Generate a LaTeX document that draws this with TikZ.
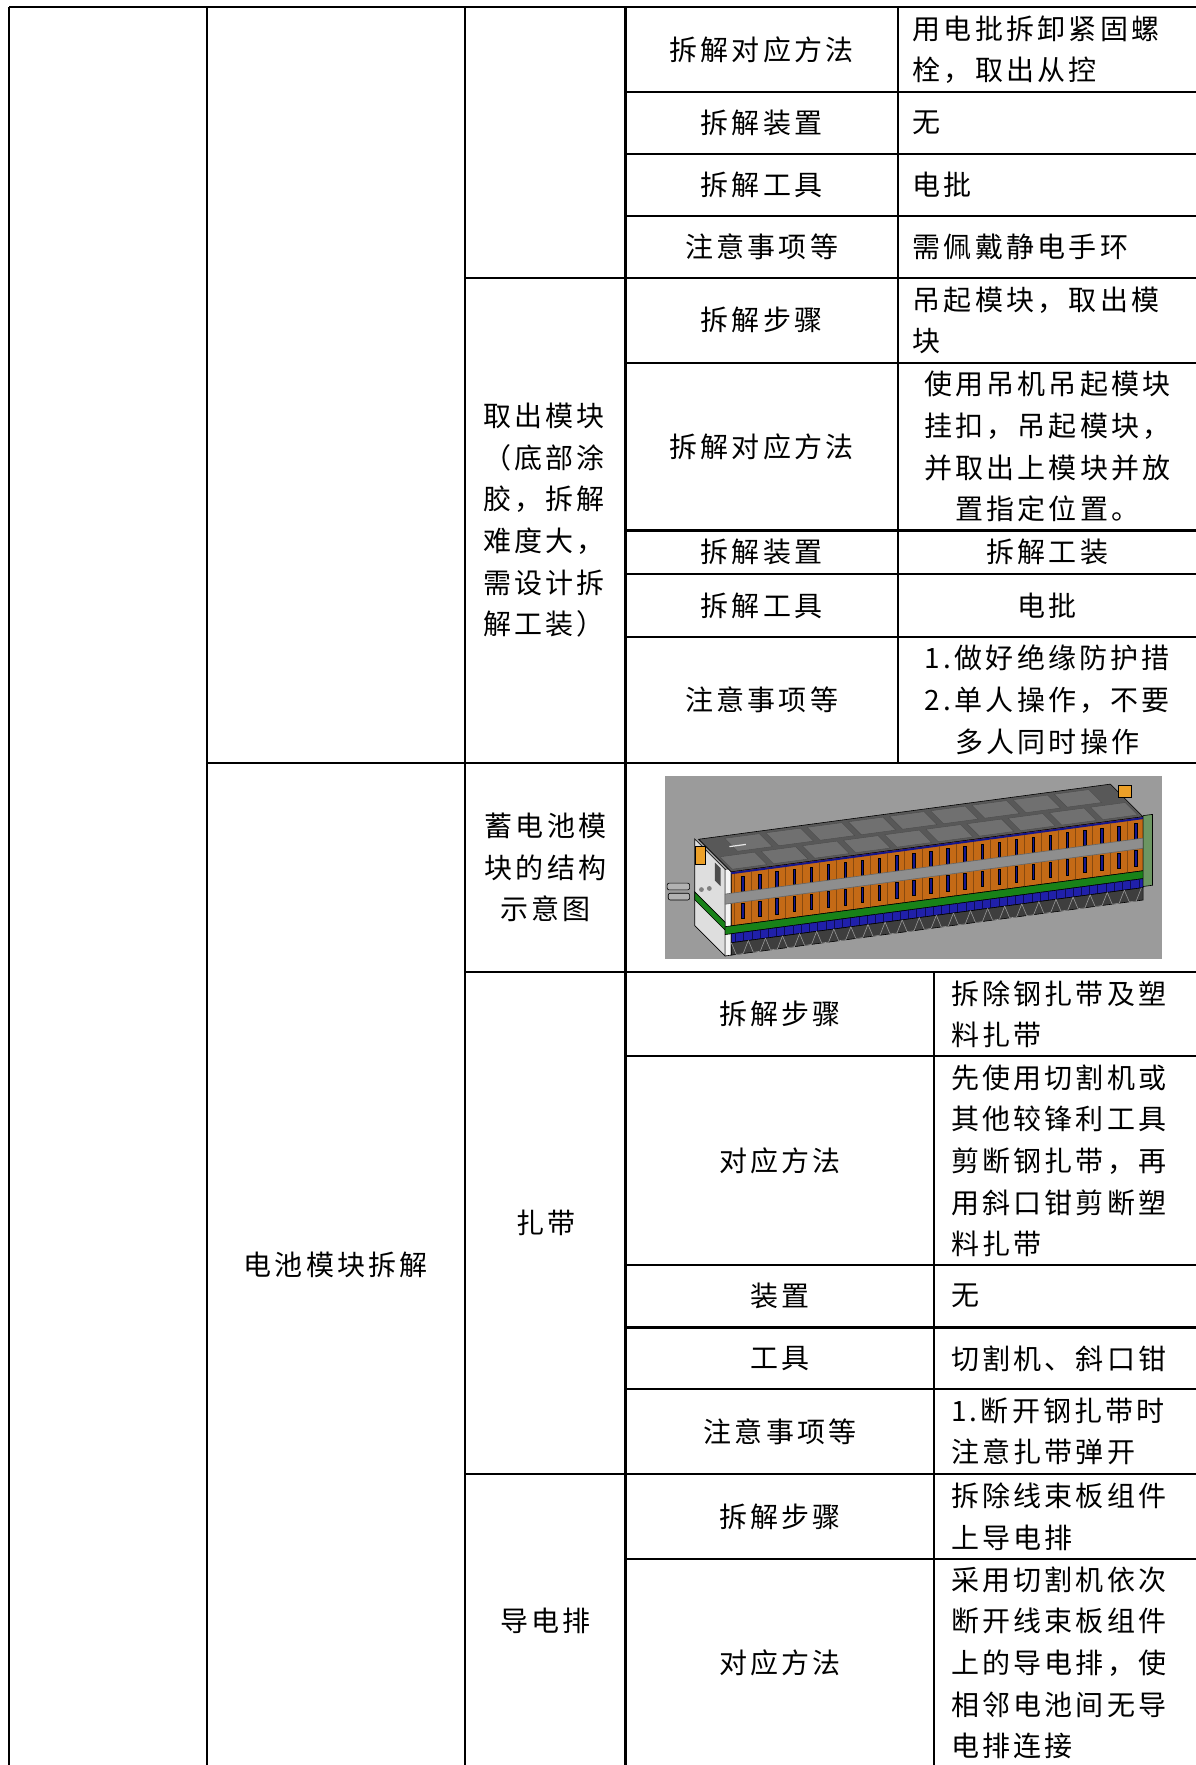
\documentclass[tikz,border=0pt]{standalone}
\usepackage{fontspec}
\setmainfont{Noto Sans CJK SC}[LetterSpace=11.5]
\newcommand{\cellfont}{\fontsize{14}{20.8}\selectfont}
\definecolor{bggray}{RGB}{155,155,155}
\definecolor{topgray}{RGB}{88,88,88}
\definecolor{tilegray}{RGB}{112,112,112}
\definecolor{cellorange}{RGB}{196,106,22}
\definecolor{slotblue}{RGB}{22,22,140}
\definecolor{bandgreen}{RGB}{24,130,24}
\definecolor{stripblue}{RGB}{32,32,170}
\definecolor{footgray}{RGB}{62,62,62}
\definecolor{strapgray}{RGB}{142,142,142}
\definecolor{capgray}{RGB}{222,222,222}
\definecolor{plategreen}{RGB}{108,150,98}
\definecolor{plugorange}{RGB}{236,160,40}
\tikzset{
  rule/.style={line width=1.1pt},
  cell/.style={font=\cellfont, inner sep=0pt, align=center},
  leftcell/.style={font=\cellfont, inner sep=0pt, align=left, anchor=west},
  edge/.style={draw=black, line width=0.3pt},
}
\begin{document}
\begin{tikzpicture}[x=0.5625pt, y=-0.5625pt]
\useasboundingbox (0,0) rectangle (1063.1,1568.9);

% Grid lines
\draw[rule] (8,6.5) -- (1063.1,6.5);
\foreach \x in {8,184,413.5,556} \draw[rule] (\x,6.5) -- (\x,1568.9);
\draw[rule] (798,6.5) -- (798,678);
\draw[rule] (830.5,864) -- (830.5,1568.9);
\foreach \y in {81.5,137,192,322.5,471.5,510.5,566} \draw[rule] (556,\y) -- (1063.1,\y);
\draw[rule] (413.5,247) -- (1063.1,247);
\draw[rule] (184,678) -- (1063.1,678);
\draw[rule] (413.5,864) -- (1063.1,864);
\foreach \y in {939,1124.5,1180,1235,1386} \draw[rule] (556,\y) -- (1063.1,\y);
\draw[rule] (413.5,1310) -- (1063.1,1310);

% Upper rows
\node[cell] (m1) at (677,44) {拆解对应方法};
\node[leftcell] (v1) at (811,44) {用电批拆卸紧固螺\\栓，取出从控};
\node[cell] (m2) at (677,109.25) {拆解装置};
\node[leftcell] (v2) at (811,109.25) {无};
\node[cell] (m3) at (677,164.5) {拆解工具};
\node[leftcell] (v3) at (811,164.5) {电批};
\node[cell] (m4) at (677,219.5) {注意事项等};
\node[leftcell] (v4) at (811,219.5) {需佩戴静电手环};

\node[leftcell] (take) at (429,462.5) {取出模块\\（底部涂\\胶，拆解\\难度大，\\需设计拆\\解工装）};
\node[cell] (m5) at (677,284.75) {拆解步骤};
\node[leftcell] (v5) at (811,284.75) {吊起模块，取出模\\块};
\node[cell] (m6) at (677,397) {拆解对应方法};
\node[cell] (v6) at (931,397) {使用吊机吊起模块\\挂扣，吊起模块，\\并取出上模块并放\\置指定位置。};
\node[cell] (m7) at (677,491) {拆解装置};
\node[cell] (v7) at (931,491) {拆解工装};
\node[cell] (m8) at (677,538.25) {拆解工具};
\node[cell] (v8) at (931,538.25) {电批};
\node[cell] (m9) at (677,622) {注意事项等};
\node[cell] (v9) at (931,622) {1.做好绝缘防护措\\2.单人操作，不要\\多人同时操作};

% Lower rows
\node[cell] (battery) at (298.5,1124) {电池模块拆解};
\node[cell] (sketch) at (485,771) {蓄电池模\\块的结构\\示意图};

\node[cell] (strap) at (485,1087) {扎带};
\node[cell] (m10) at (693.5,901.5) {拆解步骤};
\node[leftcell] (v10) at (845,901.5) {拆除钢扎带及塑\\料扎带};
\node[cell] (m11) at (693.5,1031.75) {对应方法};
\node[leftcell] (v11) at (845,1031.75) {先使用切割机或\\其他较锋利工具\\剪断钢扎带，再\\用斜口钳剪断塑\\料扎带};
\node[cell] (m12) at (693.5,1152.25) {装置};
\node[leftcell] (v12) at (845,1152.25) {无};
\node[cell] (m13) at (693.5,1207.5) {工具};
\node[leftcell] (v13) at (845,1207.5) {切割机、斜口钳};
\node[cell] (m14) at (693.5,1272.5) {注意事项等};
\node[leftcell] (v14) at (845,1272.5) {1.断开钢扎带时\\注意扎带弹开};

\node[cell] (bus) at (485,1441) {导电排};
\node[cell] (m15) at (693.5,1348) {拆解步骤};
\node[leftcell] (v15) at (845,1348) {拆除线束板组件\\上导电排};
\node[cell] (m16) at (693.5,1478) {对应方法};
\node[leftcell] (v16) at (845,1478) {采用切割机依次\\断开线束板组件\\上的导电排，使\\相邻电池间无导\\电排连接};

% Module sketch
\fill[bggray] (591.5,690) rectangle (1033,852);
\begin{scope}[shift={(650,775)}, x={(2.059pt,0.2756pt)}, y={(0pt,-0.5625pt)}, z={(-0.5625pt,0.5625pt)}]
  % end cap
  \filldraw[capgray, edge] (-1.5,-3,0) -- (-1.5,-3,27) -- (-1.5,74,27) -- (-1.5,74,0) -- cycle;
  \filldraw[white!92!gray, edge] (-1.5,-3,0) -- (0,-3,0) -- (0,74,0) -- (-1.5,74,0) -- cycle;
  \filldraw[bandgreen, edge] (-1.5,44,0) -- (-1.5,44,27) -- (-1.5,51,27) -- (-1.5,51,0) -- cycle;
  \fill[gray] (-1.5,28,14) circle (1.2pt);
  \fill[gray] (-1.5,36,21) circle (1.2pt);
  \fill[black!70] (-1.5,0,4) -- (-1.5,0,9) -- (-1.5,16,9) -- (-1.5,16,4) -- cycle;
  % top face
  \filldraw[topgray, edge] (0,0,0) -- (100,0,0) -- (100,0,29) -- (0,0,29) -- cycle;
  \foreach \i in {0,...,9}
    \filldraw[tilegray, draw=black!70, line width=0.2pt] (\i*10+0.8,0,2) -- (\i*10+9.2,0,2) -- (\i*10+9.2,0,13) -- (\i*10+0.8,0,13) -- cycle;
  \foreach \i in {1,...,9}
    \filldraw[tilegray, draw=black!70, line width=0.2pt] (\i*10-4.2,0,15.5) -- (\i*10+4.2,0,15.5) -- (\i*10+4.2,0,27) -- (\i*10-4.2,0,27) -- cycle;
  \draw[white!80!gray, line width=0.6pt] (5,0,20) -- (9,0,20);
  % front cells
  \filldraw[cellorange, edge] (0,0) -- (100,0) -- (100,48) -- (0,48) -- cycle;
  \draw[slotblue, line width=1pt] (0,1.2) -- (100,1.2);
  \foreach \k in {0,...,23} {
    \draw[cellorange!70!black, line width=0.2pt] (\k*4.15+0.6,2) -- (\k*4.15+0.6,48);
    \filldraw[slotblue, edge] (\k*4.15+2.5,5) rectangle (\k*4.15+3.1,19);
    \filldraw[slotblue, edge] (\k*4.15+2.5,29) rectangle (\k*4.15+3.1,43);
  }
  % straps and bands
  \filldraw[strapgray, draw=black!60, line width=0.3pt] (-1.5,19) -- (101.5,19) -- (101.5,28) -- (-1.5,28) -- cycle;
  \filldraw[bandgreen, edge] (-1.5,48) -- (101.5,48) -- (101.5,55) -- (-1.5,55) -- cycle;
  \filldraw[stripblue, edge] (0,55) -- (100,55) -- (100,63) -- (0,63) -- cycle;
  \foreach \k in {0,...,49}
    \draw[slotblue!60!black, line width=0.3pt] (\k*2+1,55) -- (\k*2+1,63);
  \filldraw[footgray, edge] (0,63) -- (100,63) -- (100,74) -- (0,74) -- cycle;
  \foreach \k in {0,...,23}
    \draw[black!40, line width=0.3pt] (\k*4.15,63) -- (\k*4.15+1.2,74) -- (\k*4.15+2.9,74) -- (\k*4.15+4.15,63);
  % end plate
  \filldraw[plategreen, edge] (100,-1) -- (102.3,-1) -- (102.3,62) -- (100,62) -- cycle;
\end{scope}
\filldraw[plugorange, edge] (618,752) rectangle (627,768);
\filldraw[plugorange, edge] (994,698) rectangle (1006,709);
\filldraw[gray!60, edge, rounded corners=1pt] (593,785) rectangle (613,791);
\filldraw[gray!60, edge, rounded corners=1pt] (594,794) rectangle (613,800);
\end{tikzpicture}
\end{document}
